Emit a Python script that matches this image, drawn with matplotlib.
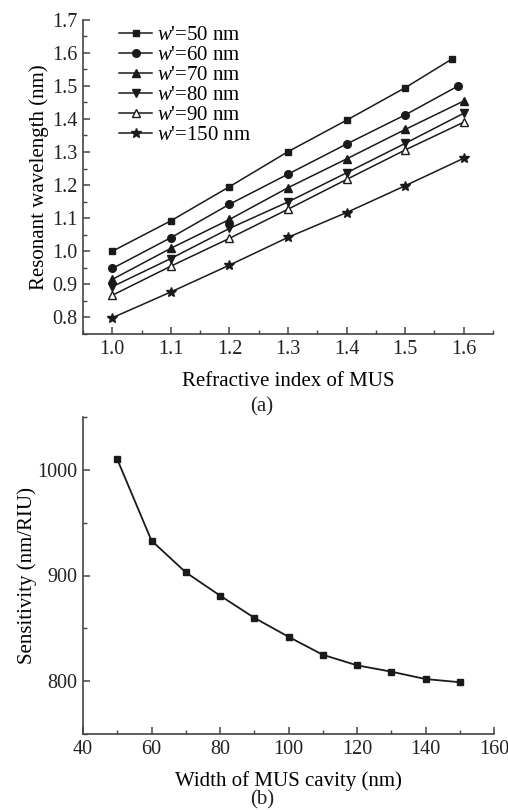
import matplotlib
matplotlib.use("Agg")
import matplotlib.pyplot as plt
from matplotlib.ticker import MultipleLocator

plt.rcParams['font.family'] = ['Liberation Serif', 'DejaVu Serif']
plt.rcParams['mathtext.fontset'] = 'custom'
plt.rcParams['mathtext.rm'] = 'Liberation Serif'
plt.rcParams['mathtext.it'] = 'Liberation Serif:italic'

# ---- panel (a) data ----
n_std = [1.0, 1.1, 1.2, 1.3, 1.4, 1.5, 1.6]
n_50 = [1.0, 1.1, 1.2, 1.3, 1.4, 1.5, 1.58]
n_60 = [1.0, 1.1, 1.2, 1.3, 1.4, 1.5, 1.59]
lam_50 = [1.000, 1.092, 1.195, 1.301, 1.396, 1.494, 1.581]
lam_60 = [0.948, 1.041, 1.142, 1.233, 1.324, 1.412, 1.499]
lam_70 = [0.915, 1.009, 1.096, 1.192, 1.279, 1.368, 1.454]
lam_80 = [0.893, 0.978, 1.069, 1.149, 1.237, 1.326, 1.417]
lam_90 = [0.867, 0.955, 1.039, 1.127, 1.217, 1.306, 1.390]
lam_150 = [0.799, 0.877, 0.958, 1.042, 1.117, 1.198, 1.281]
labels_a = ["50", "60", "70", "80", "90", "150"]

# ---- panel (b) data ----
width = [50, 60, 70, 80, 90, 100, 110, 120, 130, 140, 150]
sens = [1010, 933, 903, 881, 860, 842, 825, 815, 809, 802, 799]

W, H = 508, 810
fig = plt.figure(figsize=(W / 100, H / 100), dpi=100)

def ax_rect(l, t, r, b):
    return [l / W, 1 - b / H, (r - l) / W, (b - t) / H]

ax1 = fig.add_axes(ax_rect(83, 19.6, 493, 334))
ax2 = fig.add_axes(ax_rect(83, 417, 494, 734))

lc = '#1a1a1a'
series = [
    (n_50, lam_50, dict(marker='s', ms=4.5, mfc=lc)),
    (n_60, lam_60, dict(marker='o', ms=5.5, mfc=lc)),
    (n_std, lam_70, dict(marker='^', ms=6, mfc=lc)),
    (n_std, lam_80, dict(marker='v', ms=6, mfc=lc)),
    (n_std, lam_90, dict(marker='^', ms=6, mfc='white')),
    (n_std, lam_150, dict(marker='*', ms=7.5, mfc=lc)),
]
for (x, y, kw), lab in zip(series, labels_a):
    ax1.plot(x, y, color=lc, lw=1.1, mec=lc, label="$w$'=" + lab + " nm", **kw)

ax1.set_xlim(0.95, 1.65)
ax1.set_ylim(0.75, 1.7)
ax1.xaxis.set_minor_locator(MultipleLocator(0.05))
ax1.yaxis.set_minor_locator(MultipleLocator(0.05))
ax1.set_xticks([1.0, 1.1, 1.2, 1.3, 1.4, 1.5, 1.6])
ax1.set_xticklabels(["1.0", "1.1", "1.2", "1.3", "1.4", "1.5", "1.6"])
ax1.set_yticks([0.8, 0.9, 1.0, 1.1, 1.2, 1.3, 1.4, 1.5, 1.6, 1.7])
ax1.set_yticklabels(["0.8", "0.9", "1.0", "1.1", "1.2", "1.3", "1.4", "1.5", "1.6", "1.7"])
ax1.set_xlabel("Refractive index of MUS", fontsize=15, labelpad=10)
ax1.set_ylabel("Resonant wavelength (nm)", fontsize=15, labelpad=2)
leg = ax1.legend(loc='upper left', bbox_to_anchor=(0.088, 0.98), frameon=False,
                 fontsize=15, handlelength=1.6, handletextpad=0.2,
                 labelspacing=0.02, borderaxespad=0, borderpad=0)

ax2.plot(width, sens, color=lc, lw=1.3, marker='s', ms=4.5, mfc=lc, mec=lc)
ax2.set_xlim(40, 160)
ax2.set_ylim(750, 1050)
ax2.xaxis.set_major_locator(MultipleLocator(20))
ax2.xaxis.set_minor_locator(MultipleLocator(10))
ax2.yaxis.set_major_locator(MultipleLocator(100))
ax2.yaxis.set_minor_locator(MultipleLocator(50))
ax2.set_xlabel("Width of MUS cavity (nm)", fontsize=15, labelpad=9)
ax2.set_ylabel("Sensitivity (nm/RIU)", fontsize=15, labelpad=0)

for ax in (ax1, ax2):
    ax.spines['top'].set_visible(False)
    ax.spines['right'].set_visible(False)
    for s in ('left', 'bottom'):
        ax.spines[s].set_color('#444444')
        ax.spines[s].set_linewidth(1.2)
    ax.tick_params(which='major', direction='in', length=5, width=1.1,
                   colors='#444444', labelcolor='#222222', labelsize=14.5, pad=4)
    ax.tick_params(which='minor', direction='in', length=3, width=1.0, colors='#444444')

fig.text(262 / W, 1 - 407 / H, "(a)", ha='center', va='center', fontsize=15, color='#222222')
fig.text(262 / W, 1 - 800 / H, "(b)", ha='center', va='center', fontsize=15, color='#222222')

fig.savefig("out.png", dpi=100)
